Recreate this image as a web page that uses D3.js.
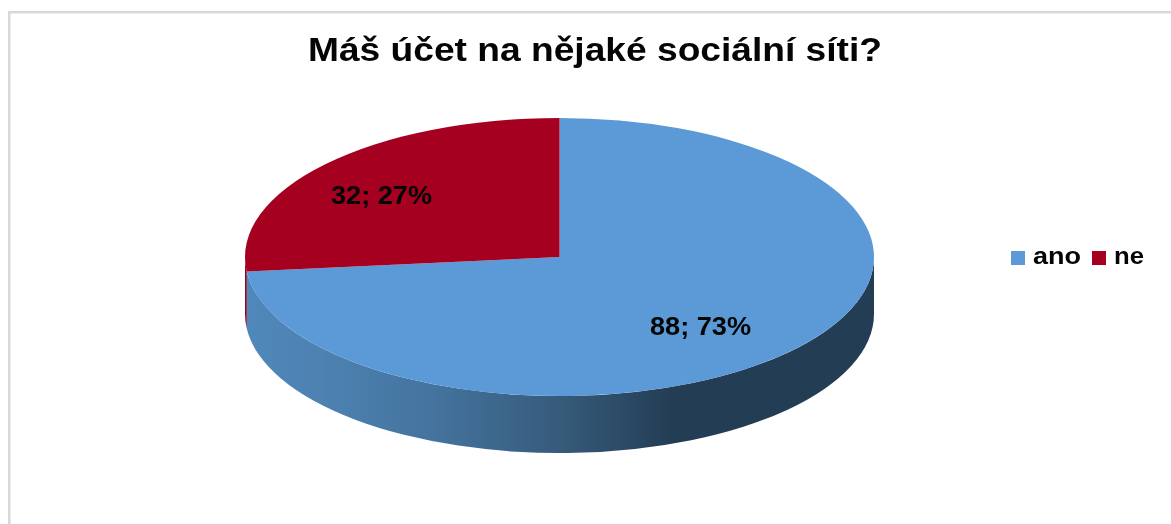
<!DOCTYPE html>
<html><head><meta charset="utf-8">
<script src="https://cdn.jsdelivr.net/npm/d3@7"></script>
<style>html,body{margin:0;padding:0;background:#fff;overflow:hidden}svg{display:block;filter:blur(0.45px)}text{font-family:"Liberation Sans",Arial,sans-serif;font-weight:700;fill:#050505}</style>
</head><body><script>
const chartTitle = "Máš účet na nějaké sociální síti?";
const categories = ["ano", "ne"];
const counts = [88, 32];
const percents = [73, 27];
const colors = ["#5b9ad6", "#a5001f"];
const wallColors = ["url(#wallBlue)", "#8f001b"];

const W = 1171, H = 524, cx = 559.5, cy = 257, rx = 314.5, ry = 139, depth = 57, k = ry / rx;
const svg = d3.select("body").append("svg").attr("width", W).attr("height", H);

const defs = svg.append("defs");
// gradient runs in the disc's own coordinates, whose origin is the pie centre
const g = defs.append("linearGradient").attr("id", "wallBlue").attr("gradientUnits", "userSpaceOnUse")
  .attr("x1", -rx).attr("x2", rx).attr("y1", 0).attr("y2", 0);
[[0, "#5088bb"], [0.12, "#4d82b1"], [0.3, "#44739e"], [0.5, "#365b7b"], [0.68, "#233d54"], [1, "#233d54"]]
  .forEach(([o, c]) => g.append("stop").attr("offset", o).attr("stop-color", c));

// frame
svg.append("rect").attr("x", 8).attr("y", 11).attr("width", 2.5).attr("height", H - 11).attr("fill", "#d8d8d8");
svg.append("rect").attr("x", 8).attr("y", 11).attr("width", W - 8).attr("height", 2.5).attr("fill", "#d8d8d8");

const pie = d3.pie().sort(null).startAngle(0).endAngle(2 * Math.PI);
const arcs = pie(counts);
const arc = d3.arc().innerRadius(0).outerRadius(rx);

const disc = svg.append("g").attr("transform", `translate(${cx},${cy}) scale(1,${k})`);

// front wall of each slice (only the part facing the viewer)
arcs.forEach((d, i) => {
  const a0 = Math.max(d.startAngle, Math.PI / 2), a1 = Math.min(d.endAngle, 3 * Math.PI / 2);
  if (a1 <= a0) return;
  const off = depth / k, p = d3.path();
  p.arc(0, 0, rx, a0 - Math.PI / 2, a1 - Math.PI / 2, false);
  p.arc(0, off, rx, a1 - Math.PI / 2, a0 - Math.PI / 2, true);
  p.closePath();
  disc.append("path").attr("d", p.toString()).attr("fill", wallColors[i]);
});

// top faces
disc.selectAll("path.top").data(arcs).join("path").attr("class", "top")
  .attr("d", arc).attr("fill", (d, i) => colors[i]);

// title
function fit(sel, len) { return sel.attr("textLength", len).attr("lengthAdjust", "spacingAndGlyphs"); }
fit(svg.append("text").attr("x", 308).attr("y", 60.5).attr("font-size", 34).text(chartTitle), 574);

// data labels
const labelPos = [[650, 334.5], [331, 203.5]];
svg.selectAll("text.lab").data(arcs).join("text").attr("class", "lab")
  .attr("x", (d, i) => labelPos[i][0]).attr("y", (d, i) => labelPos[i][1])
  .attr("font-size", 26.5).attr("textLength", 101).attr("lengthAdjust", "spacingAndGlyphs")
  .text((d, i) => `${counts[i]}; ${percents[i]}%`);

// legend
const swatchX = [1011, 1092], textX = [1033, 1114], textW = [48, 30];
categories.forEach((c, i) => {
  svg.append("rect").attr("x", swatchX[i]).attr("y", 251).attr("width", 14).attr("height", 14).attr("fill", colors[i]);
  fit(svg.append("text").attr("x", textX[i]).attr("y", 264).attr("font-size", 23).text(c), textW[i]);
});
</script></body></html>
